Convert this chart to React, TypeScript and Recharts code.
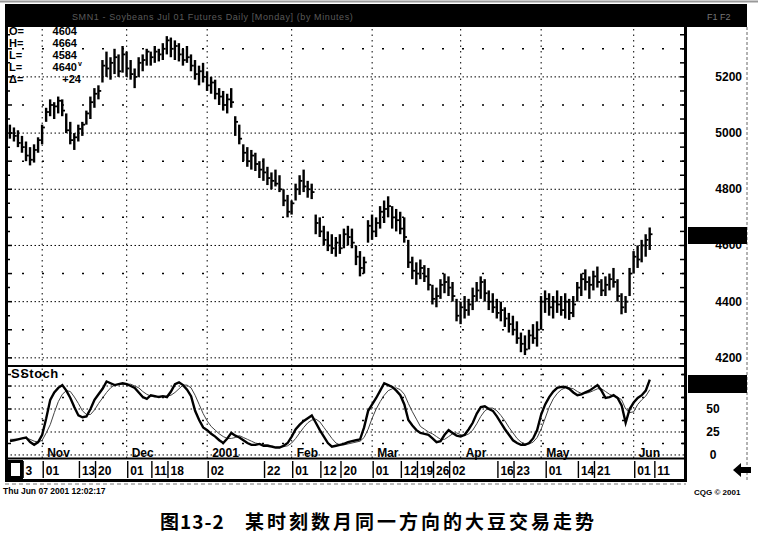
import { Bar, ComposedChart, Line, ReferenceLine, XAxis, YAxis } from 'recharts';

const SANS = '"Liberation Sans", Arial, Helvetica, sans-serif';
const CJK = '"Noto Sans CJK SC", "Noto Sans CJK TC", sans-serif';

// daily soybean bars (Oct 2000 .. Jun 07 2001)
const highs = [
  5030, 5020, 5010, 4990, 4970, 4950, 4960, 4985, 5030, 5090,
  5120, 5110, 5130, 5120, 5070, 5040, 5000, 5030, 5040, 5080,
  5130, 5160, 5170, 5260, 5290, 5270, 5300, 5280, 5310, 5290,
  5260, 5230, 5270, 5280, 5300, 5290, 5310, 5300, 5320, 5345,
  5340, 5330, 5320, 5300, 5310, 5280, 5260, 5240, 5250, 5220,
  5200, 5190, 5160, 5150, 5140, 5160, 5060, 5030, 4960, 4950,
  4940, 4930, 4900, 4910, 4880, 4860, 4870, 4850, 4800, 4780,
  4760, 4820, 4850, 4870, 4830, 4820, 4710, 4700, 4670, 4650,
  4640, 4630, 4640, 4660, 4670, 4660, 4600, 4580, 4560, 4690,
  4710, 4700, 4740, 4760, 4775, 4740, 4730, 4720, 4700, 4620,
  4560, 4540, 4550, 4530, 4520, 4460, 4450, 4480, 4500, 4490,
  4470, 4410, 4400, 4420, 4410, 4450, 4470, 4490, 4480, 4440,
  4430, 4410, 4400, 4380, 4360, 4350, 4330, 4290, 4280, 4300,
  4320, 4330, 4420, 4440, 4430, 4420, 4440, 4420, 4430, 4410,
  4420, 4470, 4500, 4515, 4490, 4510, 4525, 4480, 4490, 4500,
  4520, 4480, 4430, 4420, 4520, 4580, 4600, 4620, 4640, 4664,
];
const lows = [
  4980, 4970, 4950, 4930, 4900, 4885, 4895, 4930, 4960, 5040,
  5060, 5050, 5070, 5060, 5000, 4960, 4940, 4970, 4990, 5030,
  5050, 5090, 5120, 5180, 5200, 5190, 5210, 5200, 5215, 5200,
  5190, 5160, 5200, 5220, 5240, 5240, 5250, 5255, 5260, 5280,
  5270, 5260, 5255, 5240, 5250, 5220, 5190, 5170, 5180, 5150,
  5140, 5120, 5100, 5080, 5070, 5090, 4990, 4960, 4900, 4880,
  4870, 4865, 4840, 4830, 4815, 4800, 4810, 4790, 4740, 4700,
  4710, 4760, 4780, 4790, 4770, 4765, 4640, 4630, 4600, 4580,
  4570, 4560, 4570, 4590, 4600, 4590, 4530, 4490, 4500, 4610,
  4620, 4630, 4660, 4680, 4700, 4660, 4650, 4640, 4610, 4520,
  4480, 4460, 4480, 4470, 4440, 4390, 4380, 4410, 4430, 4420,
  4400, 4330, 4320, 4340, 4350, 4370, 4400, 4410, 4400, 4370,
  4360, 4340, 4330, 4310, 4290, 4280, 4250, 4220, 4210, 4230,
  4250, 4240, 4300, 4360, 4350, 4340, 4360, 4350, 4340, 4335,
  4345, 4400, 4420, 4440, 4410, 4440, 4450, 4420, 4420, 4440,
  4450, 4400, 4355, 4360, 4420, 4500, 4520, 4540, 4560, 4584,
];
const closes = [
  5000, 4990, 4965, 4950, 4920, 4905, 4940, 4975, 5020, 5075,
  5100, 5095, 5115, 5080, 5010, 4975, 4985, 5015, 5030, 5070,
  5110, 5140, 5150, 5240, 5230, 5250, 5270, 5220, 5280, 5230,
  5210, 5200, 5250, 5260, 5290, 5270, 5290, 5280, 5300, 5330,
  5300, 5310, 5280, 5260, 5270, 5240, 5210, 5220, 5200, 5170,
  5180, 5140, 5130, 5100, 5120, 5110, 5040, 4980, 4930, 4900,
  4920, 4890, 4870, 4860, 4840, 4830, 4820, 4800, 4760, 4720,
  4750, 4800, 4830, 4810, 4800, 4790, 4680, 4650, 4620, 4600,
  4590, 4610, 4590, 4640, 4630, 4610, 4560, 4520, 4540, 4670,
  4650, 4680, 4720, 4730, 4740, 4700, 4690, 4660, 4630, 4540,
  4510, 4500, 4520, 4490, 4460, 4410, 4420, 4460, 4470, 4450,
  4420, 4350, 4380, 4370, 4390, 4420, 4440, 4470, 4430, 4400,
  4380, 4360, 4370, 4340, 4320, 4300, 4270, 4250, 4230, 4280,
  4270, 4300, 4400, 4410, 4380, 4400, 4390, 4370, 4400, 4360,
  4390, 4450, 4480, 4470, 4460, 4490, 4470, 4440, 4460, 4480,
  4470, 4420, 4380, 4400, 4500, 4560, 4550, 4600, 4620, 4640,
];

// slow stochastic, %K (heavy) and %D (light)
const stochK = [
  15, 16, 17, 18, 19, 14, 11, 14, 22, 40,
  60, 68, 73, 76, 70, 62, 52, 43, 41, 42,
  50, 60, 66, 72, 80, 78, 76, 77, 78, 77,
  75, 73, 68, 63, 61, 65, 64, 63, 64, 63,
  69, 77, 79, 76, 71, 64, 48, 38, 30, 27,
  23, 20, 16, 13, 18, 24, 21, 19, 16, 13,
  11, 11, 12, 10, 10, 9, 8, 8, 10, 13,
  20, 28, 33, 37, 40, 43, 35, 27, 20, 13,
  9, 10, 11, 12, 14, 15, 16, 17, 30, 48,
  55, 62, 70, 78, 76, 74, 70, 65, 55, 38,
  32, 27, 24, 23, 22, 18, 14, 15, 22, 27,
  24, 21, 20, 22, 28, 35, 45, 52, 53, 50,
  48, 42, 35, 28, 22, 16, 13, 11, 11, 13,
  18, 27, 44, 55, 63, 69, 73, 74, 74, 72,
  68, 65, 66, 68, 70, 73, 76, 70, 62, 63,
  65, 62, 54, 35, 50, 57, 62, 65, 70, 82,
];
const stochD = [
  17, 17, 17, 18, 18, 17, 15, 14, 16, 24,
  33, 46, 58, 66, 70, 69, 63, 56, 48, 44,
  44, 49, 56, 62, 68, 73, 76, 77, 77, 77,
  77, 75, 73, 69, 66, 64, 63, 64, 64, 64,
  65, 68, 72, 76, 76, 73, 65, 55, 45, 37,
  31, 27, 23, 20, 18, 18, 19, 21, 19, 17,
  15, 13, 12, 11, 11, 10, 9, 9, 9, 10,
  13, 18, 24, 30, 35, 38, 39, 36, 30, 24,
  18, 13, 11, 11, 12, 13, 14, 15, 19, 28,
  40, 50, 58, 65, 70, 72, 73, 71, 66, 56,
  47, 39, 31, 28, 25, 23, 20, 17, 17, 20,
  23, 24, 22, 21, 23, 27, 34, 42, 48, 51,
  51, 48, 43, 37, 30, 24, 18, 14, 12, 12,
  14, 19, 28, 40, 52, 61, 67, 71, 73, 73,
  72, 69, 67, 67, 68, 70, 72, 72, 69, 66,
  64, 63, 60, 50, 46, 47, 55, 60, 64, 71,
];

const priceTicks = [4200, 4400, 4600, 4800, 5000, 5200];
const priceDotRows = [4300, 4500, 4700, 4900, 5100, 5300];
const stochLines = [0, 25, 50, 75];
const stochDotRows = [12.5, 37.5, 62.5, 87.5];
const stochTicks = [0, 25, 50];

const monthStarts = [
  { idx: 8, label: 'Nov' },
  { idx: 29, label: 'Dec' },
  { idx: 49, label: '2001' },
  { idx: 70, label: 'Feb' },
  { idx: 90, label: 'Mar' },
  { idx: 112, label: 'Apr' },
  { idx: 132, label: 'May' },
  { idx: 155, label: 'Jun' },
];

const dateTicks = [
  { idx: 4, label: '3' },
  { idx: 9, label: '01' },
  { idx: 18, label: '13' },
  { idx: 22, label: '20' },
  { idx: 30, label: '01' },
  { idx: 36, label: '11' },
  { idx: 40, label: '18' },
  { idx: 50, label: '02' },
  { idx: 64, label: '22' },
  { idx: 71, label: '01' },
  { idx: 78, label: '12' },
  { idx: 83, label: '20' },
  { idx: 91, label: '01' },
  { idx: 98, label: '12' },
  { idx: 102, label: '19' },
  { idx: 106, label: '26' },
  { idx: 110, label: '02' },
  { idx: 122, label: '16' },
  { idx: 126, label: '23' },
  { idx: 134, label: '01' },
  { idx: 142, label: '14' },
  { idx: 146, label: '21' },
  { idx: 156, label: '01' },
  { idx: 161, label: '11' },
];

const quote = [
  { key: 'O=', value: '4604' },
  { key: 'H=', value: '4664' },
  { key: 'L=', value: '4584' },
  { key: 'L=', value: '4640' },
  { key: 'Δ=', value: '+24' },
];

const SLOTS = 168; // room for a week of empty space after the last bar
const rows = Array.from({ length: SLOTS }, (_, i) => ({
  idx: i,
  high: highs[i],
  low: lows[i],
  close: closes[i],
  k: stochK[i],
  d: stochD[i],
}));
const dateLabelByIdx = new Map(dateTicks.map((t) => [t.idx, t.label]));

const PRICE_DOMAIN: [number, number] = [4171, 5374];
const STOCH_DOMAIN: [number, number] = [-3.3, 95.7];

const OhlcBar = (props: any) => {
  const { x, y, width, height, payload } = props;
  if (!payload || payload.high == null) return <g />;
  const cx = x + width / 2;
  const top = Math.min(y, y + height);
  const bottom = Math.max(y, y + height);
  const span = payload.high - payload.low || 1;
  const yc = top + ((payload.high - payload.close) / span) * (bottom - top);
  return (
    <g>
      <line x1={cx} x2={cx} y1={top} y2={bottom} stroke="#000" strokeWidth={2.4} />
      <line x1={cx} x2={cx + 2.8} y1={yc} y2={yc} stroke="#000" strokeWidth={1.8} />
    </g>
  );
};

const PriceTick = (props: any) => (
  <text x={734} y={props.y + 4} textAnchor="end" fontFamily={SANS} fontWeight="bold" fontSize={12} fill="#000">
    {props.payload.value}
  </text>
);

const StochTick = (props: any) => (
  <text x={705} y={props.y + 4} textAnchor="middle" fontFamily={SANS} fontWeight="bold" fontSize={12} fill="#000">
    {props.payload.value}
  </text>
);

const DateTick = (props: any) => {
  const label = dateLabelByIdx.get(props.payload.value);
  if (!label) return <g />;
  return (
    <g>
      <line x1={props.x - 3} x2={props.x - 3} y1={95} y2={112} stroke="#000" strokeWidth={1.4} />
      <text x={props.x - 0.5} y={109} fontFamily={SANS} fontWeight="bold" fontSize={12} fill="#000">
        {label}
      </text>
    </g>
  );
};

const MonthLabel = (props: any) => {
  const { viewBox, monthText } = props;
  if (!viewBox) return null;
  return (
    <text x={viewBox.x + 5} y={viewBox.y + viewBox.height - 1} fontFamily={SANS} fontWeight="bold" fontSize={12} fill="#000">
      {monthText}
    </text>
  );
};

const gridDots = '1.5 2.5';
const sparseDots = '2 18';

export default function App() {
  const priceY = (p: number) => 28 + ((PRICE_DOMAIN[1] - p) / (PRICE_DOMAIN[1] - PRICE_DOMAIN[0])) * 338;
  const stochY = (v: number) => 367 + ((STOCH_DOMAIN[1] - v) / (STOCH_DOMAIN[1] - STOCH_DOMAIN[0])) * 91;
  const borderTicks: number[] = [];
  for (let p = 4200; p <= 5350; p += 50) borderTicks.push(p);

  return (
    <div style={{ position: 'absolute', left: 0, top: 0, width: 758, height: 541, background: '#fff', overflow: 'hidden' }}>
      <div style={{ position: 'absolute', left: 8, top: 28 }}>
        <ComposedChart width={738} height={338} data={rows} margin={{ top: 0, right: 0, bottom: 0, left: 0 }}>
          <XAxis dataKey="idx" type="category" scale="band" hide />
          <YAxis
            orientation="right"
            width={62}
            domain={PRICE_DOMAIN}
            allowDataOverflow
            ticks={priceTicks}
            interval={0}
            axisLine={false}
            tickLine={false}
            tick={(p: any) => <PriceTick {...p} />}
          />
          {priceTicks.map((p) => (
            <ReferenceLine key={`pg${p}`} y={p} stroke="#000" strokeDasharray={gridDots} strokeWidth={1} />
          ))}
          {priceDotRows.map((p) => (
            <ReferenceLine key={`pd${p}`} y={p} stroke="#000" strokeDasharray={sparseDots} strokeWidth={1.5} />
          ))}
          {monthStarts.map((m) => (
            <ReferenceLine key={`pm${m.idx}`} x={m.idx} stroke="#000" strokeDasharray="1.5 4" strokeWidth={1} />
          ))}
          <Bar dataKey={(r: any) => (r.high == null ? null : [r.low, r.high])} shape={OhlcBar} isAnimationActive={false} />
        </ComposedChart>
      </div>

      <div style={{ position: 'absolute', left: 8, top: 366 }}>
        <ComposedChart width={738} height={114} data={rows} margin={{ top: 1, right: 0, bottom: 0, left: 0 }}>
          <XAxis
            dataKey="idx"
            type="category"
            scale="band"
            interval={0}
            height={22}
            axisLine={false}
            tickLine={false}
            tick={(p: any) => <DateTick {...p} />}
          />
          <YAxis
            orientation="right"
            width={62}
            domain={STOCH_DOMAIN}
            allowDataOverflow
            ticks={stochTicks}
            interval={0}
            axisLine={false}
            tickLine={false}
            tick={(p: any) => <StochTick {...p} />}
          />
          {stochLines.map((v) => (
            <ReferenceLine key={`sg${v}`} y={v} stroke="#000" strokeDasharray={gridDots} strokeWidth={1} />
          ))}
          {stochDotRows.map((v) => (
            <ReferenceLine key={`sd${v}`} y={v} stroke="#000" strokeDasharray={sparseDots} strokeWidth={1.5} />
          ))}
          {monthStarts.map((m) => (
            <ReferenceLine
              key={`sm${m.idx}`}
              x={m.idx}
              stroke="#000"
              strokeDasharray="1.5 4"
              strokeWidth={1}
              label={<MonthLabel monthText={m.label} />}
            />
          ))}
          <Line dataKey="d" type="linear" stroke="#444" strokeWidth={1} dot={false} isAnimationActive={false} />
          <Line dataKey="k" type="linear" stroke="#000" strokeWidth={2.4} dot={false} isAnimationActive={false} />
        </ComposedChart>
      </div>

      <svg width={758} height={541} style={{ position: 'absolute', left: 0, top: 0, pointerEvents: 'none' }}>
        <line x1={0} x2={758} y1={1.5} y2={1.5} stroke="#999" strokeWidth={2} />
        <rect x={5} y={4} width={742} height={23} fill="#000" />
        <text x={72} y={20} fontFamily={SANS} fontSize={9} fill="#5a5a5a" letterSpacing={0.6}>
          SMN1 - Soybeans  Jul 01  Futures  Daily  [Monday]  (by Minutes)
        </text>
        <text x={707} y={20} fontFamily={SANS} fontSize={9} fill="#777">F1 F2</text>

        {/* frame */}
        <rect x={5} y={27} width={3} height={453} fill="#000" />
        <rect x={684} y={27} width={3} height={453} fill="#000" />
        <rect x={5} y={365} width={682} height={2} fill="#000" />
        <rect x={5} y={457.5} width={682} height={2} fill="#000" />
        <rect x={5} y={479} width={682} height={3} fill="#000" />
        <line x1={5} x2={686} y1={484} y2={484} stroke="#777" strokeDasharray="4 3" />
        <line x1={747} x2={747} y1={27} y2={482} stroke="#666" strokeDasharray="3 2" />
        {borderTicks.map((p) => (
          <g key={`bt${p}`}>
            <line x1={8} x2={p % 100 === 0 ? 12 : 10} y1={priceY(p)} y2={priceY(p)} stroke="#000" strokeWidth={1.5} />
            <line x1={680} x2={684} y1={priceY(p)} y2={priceY(p)} stroke="#000" strokeWidth={1.5} />
          </g>
        ))}
        {[12.5, 25, 37.5, 50, 62.5, 75, 87.5].map((v) => (
          <g key={`st${v}`}>
            <line x1={8} x2={11} y1={stochY(v)} y2={stochY(v)} stroke="#000" strokeWidth={1.5} />
            <line x1={681} x2={684} y1={stochY(v)} y2={stochY(v)} stroke="#000" strokeWidth={1.5} />
          </g>
        ))}
        <rect x={9.5} y={461.5} width={12} height={16} fill="#fff" stroke="#000" strokeWidth={3} />

        {/* current value markers on the scales */}
        <rect x={688} y={227} width={59} height={17} fill="#000" />
        <rect x={688} y={375} width={59} height={18} fill="#000" />
        <polygon points="733,470 741,463 741,467 751,467 751,473 741,473 741,477" fill="#000" />

        {/* quote box */}
        {quote.map((q, i) => (
          <g key={`q${i}`}>
            <text x={9} y={35 + i * 12} fontFamily={SANS} fontWeight="bold" fontSize={11} fill="#000">
              {q.key}
            </text>
            <text x={i === 4 ? 81 : 77} y={35 + i * 12} textAnchor="end" fontFamily={SANS} fontWeight="bold" fontSize={11} fill="#000">
              {q.value}
            </text>
          </g>
        ))}
        <text x={78} y={66} fontFamily={SANS} fontWeight="bold" fontSize={7} fill="#000">v</text>

        <text x={11} y={378} fontFamily={SANS} fontWeight="bold" fontSize={13} fill="#000" letterSpacing={0.5}>
          SStoch
        </text>

        <text x={3} y={494} fontFamily={SANS} fontWeight="bold" fontSize={8.5} fill="#000">
          Thu Jun 07 2001 12:02:17
        </text>
        <text x={694} y={495} fontFamily={SANS} fontWeight="bold" fontSize={8} fill="#000">
          CQG © 2001
        </text>

        <text x={160} y={529} fontFamily={CJK} fontWeight="bold" fontSize={19} fill="#000" letterSpacing={1}>
          图13-2
        </text>
        <text x={245} y={529} fontFamily={CJK} fontWeight="bold" fontSize={19} fill="#000" letterSpacing={3}>
          某时刻数月同一方向的大豆交易走势
        </text>
      </svg>
    </div>
  );
}
